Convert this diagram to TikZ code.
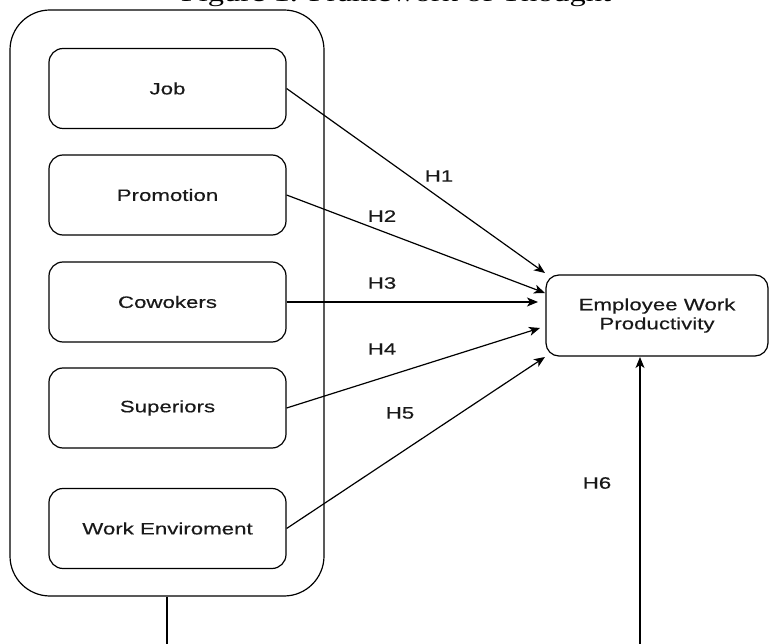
\documentclass[tikz,border=0pt]{standalone}
\usepackage{fontspec}
\usetikzlibrary{arrows.meta}
\newfontfamily\labfont{Liberation Sans}[FakeStretch=1.35,FakeBold=0.4]
\newfontfamily\ttlfont{Liberation Serif}[FakeStretch=1.35]
\begin{document}
\begin{tikzpicture}[x=1pt,y=-1pt,
  box/.style={draw, rounded corners=14pt, minimum width=237pt, minimum height=80pt, line width=1.2pt, inner sep=0pt,
    font=\labfont\fontsize{16.5}{19}\selectfont, text=black!90},
  outer/.style={draw, rounded corners=40pt, minimum width=314pt, minimum height=586pt, line width=1.2pt, inner sep=0pt},
  conn/.style={line width=1.2pt, -{Stealth[length=11pt,width=9pt,inset=3pt]}},
  plain/.style={line width=1.2pt},
  hlab/.style={font=\labfont\fontsize{16.5}{19}\selectfont, text=black!90}]
\useasboundingbox (0,0) rectangle (769,644);
\node[anchor=base, font=\ttlfont\fontsize{24}{28}\selectfont, inner sep=0pt] (title) at (396,2) {Figure 1. Framework of Thought};
\node[outer] (group) at (167,303) {};
\node[box] (job) at (167.5,88.5) {Job};
\node[box] (promo) at (167.5,195) {Promotion};
\node[box] (cow) at (167.5,302) {Cowokers};
\node[box] (sup) at (167.5,408) {Superiors};
\node[box] (env) at (167.5,528.5) {Work Enviroment};
\node[box, rounded corners=13pt, minimum width=222pt, minimum height=81pt, align=center] (emp) at (657,315.5) {Employee Work\\Productivity};
\coordinate (e1) at (545,273);
\coordinate (e2) at (545,293);
\coordinate (e3) at (538,302);
\coordinate (e4) at (540,328);
\coordinate (e5) at (545,357);
\coordinate (e6) at (640,357);
\coordinate (b1) at (167,644);
\coordinate (b2) at (640,644);
\draw[conn] (job.east) -- (e1);
\draw[conn] (promo.east) -- (e2);
\draw[conn] (cow.east) -- (e3);
\draw[conn] (sup.east) -- (e4);
\draw[conn] (env.east) -- (e5);
\draw[plain] (group.south) -- (b1);
\draw[conn] (b2) -- (e6);
\node[hlab] (h1) at (439,176) {H1};
\node[hlab] (h2) at (382,216) {H2};
\node[hlab] (h3) at (382,283) {H3};
\node[hlab] (h4) at (382,349) {H4};
\node[hlab] (h5) at (400,413) {H5};
\node[hlab] (h6) at (597,483) {H6};
\end{tikzpicture}
\end{document}
